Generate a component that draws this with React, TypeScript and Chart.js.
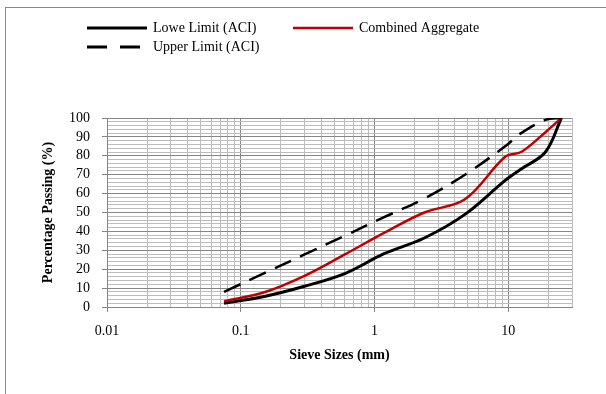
import React, { useEffect, useRef } from "react";
import { Chart, registerables } from "chart.js";

Chart.register(...registerables);

const sieveSizes = [0.075, 0.15, 0.3, 0.6, 1.18, 2.36, 4.75, 9.5, 12.5, 19, 25];
const lowerLimit = [2, 5.6, 11, 17.7, 28.2, 36.5, 49, 67, 73, 82, 100];
const combinedAggregate = [3, 7.8, 16.5, 27.8, 39.2, 50, 57, 79.5, 82, 92.5, 100];
const upperLimit = [8, 17.9, 27.8, 37.7, 47.5, 57.4, 70, 85, 92, 99, 100];

const xDecadeLabels = ["0.01", "0.1", "1", "10"];
const xMin = 0.01;
const xMax = 30;
const yMin = 0;
const yMax = 100;

const FONT = "'Liberation Serif', 'Times New Roman', serif";

const isDecade = (v: number) =>
  Math.abs(Math.log10(v) - Math.round(Math.log10(v))) < 1e-9;

const legendPlugin = {
  id: "customLegend",
  afterDraw(chart: any) {
    const ctx = chart.ctx;
    ctx.save();
    ctx.font = `14px ${FONT}`;
    ctx.fillStyle = "#000";
    ctx.textBaseline = "middle";
    ctx.textAlign = "left";
    const items = [
      { x: 87, y: 28, color: "#000", width: 3, dash: [] as number[], text: "Lowe Limit (ACI)" },
      { x: 293, y: 28, color: "#c00000", width: 2.5, dash: [] as number[], text: "Combined Aggregate" },
      { x: 87, y: 47, color: "#000", width: 3, dash: [20, 13], text: "Upper Limit (ACI)" },
    ];
    for (const it of items) {
      ctx.beginPath();
      ctx.strokeStyle = it.color;
      ctx.lineWidth = it.width;
      ctx.setLineDash(it.dash);
      ctx.moveTo(it.x, it.y);
      ctx.lineTo(it.x + 60, it.y);
      ctx.stroke();
      ctx.setLineDash([]);
      ctx.fillText(it.text, it.x + 66, it.y);
    }
    ctx.restore();
  },
};

export default function App() {
  const ref = useRef<HTMLCanvasElement | null>(null);

  useEffect(() => {
    if (!ref.current) return;
    const mk = (vals: number[]) => sieveSizes.map((s, i) => ({ x: s, y: vals[i] }));
    const chart = new Chart(ref.current, {
      type: "line",
      data: {
        datasets: [
          {
            label: "Upper Limit (ACI)",
            data: mk(upperLimit),
            borderColor: "#000",
            borderWidth: 2.5,
            borderDash: [18, 10],
            pointRadius: 0,
            tension: 0.35,
            fill: false,
          },
          {
            label: "Combined Aggregate",
            data: mk(combinedAggregate),
            borderColor: "#c00000",
            borderWidth: 2.5,
            pointRadius: 0,
            tension: 0.35,
            fill: false,
          },
          {
            label: "Lowe Limit (ACI)",
            data: mk(lowerLimit),
            borderColor: "#000",
            borderWidth: 3,
            pointRadius: 0,
            tension: 0.35,
            fill: false,
          },
        ],
      },
      options: {
        animation: false,
        responsive: false,
        devicePixelRatio: 1,
        layout: { padding: { left: 0, top: 118, right: 34, bottom: 0 } },
        plugins: { legend: { display: false }, tooltip: { enabled: false } },
        scales: {
          x: {
            type: "logarithmic",
            min: xMin,
            max: xMax,
            afterFit: (s: any) => {
              s.height = 87;
            },
            afterBuildTicks: (s: any) => {
              const t: any[] = [];
              for (const d of [0.01, 0.1, 1, 10]) {
                for (let k = 1; k <= 9; k++) {
                  const v = parseFloat((k * d).toPrecision(6));
                  if (v <= xMax + 1e-9) t.push({ value: v });
                }
              }
              s.ticks = t;
            },
            ticks: {
              autoSkip: false,
              maxRotation: 0,
              padding: 11,
              color: "#000",
              font: { family: FONT, size: 14 },
              callback: (v: any) => {
                const n = Number(v);
                if (!isDecade(n)) return "";
                const idx = Math.round(Math.log10(n)) + 2;
                return xDecadeLabels[idx] ?? "";
              },
            },
            grid: {
              color: (c: any) => (c.tick && isDecade(c.tick.value) ? "#868686" : "#bcbcbc"),
              tickColor: (c: any) => (c.tick && isDecade(c.tick.value) ? "#868686" : "rgba(0,0,0,0)"),
              tickLength: 5,
              lineWidth: 1,
            },
            border: { color: "#868686" },
            title: {
              display: true,
              text: "Sieve Sizes (mm)",
              color: "#000",
              font: { family: FONT, size: 14, weight: "bold" },
              padding: { top: 0, bottom: 30 },
            },
          },
          y: {
            min: yMin,
            max: yMax,
            afterFit: (s: any) => {
              s.width = 107;
            },
            ticks: {
              stepSize: 2,
              autoSkip: false,
              padding: 12,
              color: "#000",
              font: { family: FONT, size: 14 },
              callback: (v: any) => (Number(v) % 10 === 0 ? String(v) : ""),
            },
            grid: {
              color: (c: any) => (c.tick && c.tick.value % 10 === 0 ? "#868686" : "#bcbcbc"),
              tickColor: (c: any) => (c.tick && c.tick.value % 10 === 0 ? "#868686" : "rgba(0,0,0,0)"),
              tickLength: 5,
              lineWidth: 1,
            },
            border: { color: "#868686" },
            title: {
              display: true,
              text: "Percentage Passing (%)",
              color: "#000",
              font: { family: FONT, size: 14, weight: "bold" },
              padding: { top: 40, bottom: 0 },
            },
          },
        },
      },
      plugins: [legendPlugin],
    });
    return () => chart.destroy();
  }, []);

  return (
    <div style={{ position: "absolute", left: 0, top: 0, width: 606, height: 394, overflow: "hidden", background: "#fff" }}>
      <div
        style={{
          position: "absolute",
          left: 5,
          top: 7,
          width: 700,
          height: 500,
          border: "1px solid #898989",
          boxSizing: "border-box",
        }}
      />
      <canvas ref={ref} width={606} height={394} style={{ position: "absolute", left: 0, top: 0, width: 606, height: 394 }} />
    </div>
  );
}
